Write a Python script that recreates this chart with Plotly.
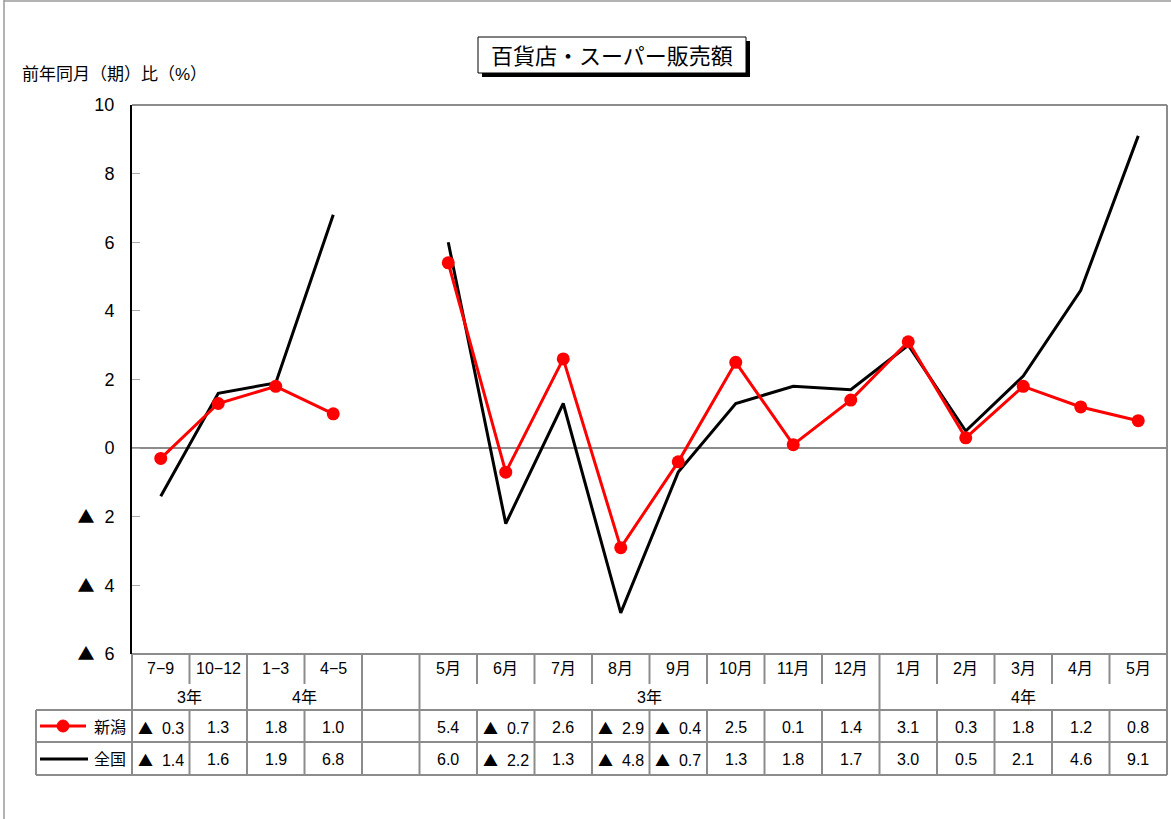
import plotly.graph_objects as go

# Period labels (quarters / two-month block, a spacer column, then monthly)
periods = ["7−9", "10−12", "1−3", "4−5", "",
           "5月", "6月", "7月", "8月", "9月", "10月", "11月", "12月",
           "1月", "2月", "3月", "4月", "5月"]
# Year groups: (label, first column, last column)
year_groups = [("3年", 0, 1), ("4年", 2, 3), ("3年", 5, 12), ("4年", 13, 17)]

niigata = [-0.3, 1.3, 1.8, 1.0, None,
           5.4, -0.7, 2.6, -2.9, -0.4, 2.5, 0.1, 1.4,
           3.1, 0.3, 1.8, 1.2, 0.8]
zenkoku = [-1.4, 1.6, 1.9, 6.8, None,
           6.0, -2.2, 1.3, -4.8, -0.7, 1.3, 1.8, 1.7,
           3.0, 0.5, 2.1, 4.6, 9.1]

y_ticks = [10, 8, 6, 4, 2, 0, -2, -4, -6]

# Page and plot-area geometry (pixels)
W, H = 1171, 819
L, R, T, B = 132, 1167, 105, 654
n = len(periods)


def px(xpix):
    return (xpix - L) / (R - L)


def py(ypix):
    return (B - ypix) / (B - T)


def tri(size):
    return f"<span style='font-family:Noto Sans CJK JP;font-size:{size}px'>▲</span>"


def fmt(v):
    if v is None:
        return ""
    return f"{tri(15)}\u00a0\u00a0{abs(v):.1f}" if v < 0 else f"{v:.1f}"


def tick_text(v):
    return f"{tri(17)}\u00a0 {abs(v)}" if v < 0 else str(v)


FONT = "Liberation Sans, Arial, Noto Sans CJK JP, sans-serif"
GRID = "#8c8c8c"

fig = go.Figure()
xs = list(range(n))
fig.add_trace(go.Scatter(
    x=xs, y=zenkoku, mode="lines", name="全国",
    line=dict(color="black", width=3), connectgaps=False,
))
fig.add_trace(go.Scatter(
    x=xs, y=niigata, mode="lines+markers", name="新潟",
    line=dict(color="#ff0000", width=3),
    marker=dict(color="#ff0000", size=13), connectgaps=False,
))

shapes = []
annotations = []


def hline(y0pix, x0, x1, xref="x", color=GRID, width=2):
    shapes.append(dict(type="line", xref=xref, yref="paper",
                       x0=x0, x1=x1, y0=py(y0pix), y1=py(y0pix),
                       line=dict(color=color, width=width)))


def vline(x, y0pix, y1pix, xref="x", color=GRID, width=2):
    shapes.append(dict(type="line", xref=xref, yref="paper",
                       x0=x, x1=x, y0=py(y0pix), y1=py(y1pix),
                       line=dict(color=color, width=width)))


def label(x, ypix, text, xref="x", xanchor="center", font=None):
    annotations.append(dict(x=x, y=py(ypix), xref=xref, yref="paper",
                            text=text, showarrow=False,
                            xanchor=xanchor, yanchor="middle",
                            font=font or TFONT))


# Plot frame (top and right sides grey)
hline(T, 0, 1, xref="paper")
vline(1, T, B, xref="paper")

# Table rows
ROW_HDR_TOP, ROW_HDR_SPLIT, ROW1, ROW2, ROW_END = 654, 684, 710, 742, 775
hline(ROW_HDR_TOP, 0, 1, xref="paper")
for yy in (ROW1, ROW2, ROW_END):
    hline(yy, px(36), 1, xref="paper")
vline(px(36), ROW1, ROW_END, xref="paper")
vline(0, ROW_HDR_TOP, ROW_END, xref="paper")
vline(1, ROW_HDR_TOP, ROW_END, xref="paper")

group_edges = {1, 3, 4, 12}
for i in range(n - 1):
    xb = i + 0.5
    if i in group_edges:
        vline(xb, ROW_HDR_TOP, ROW_END)
    else:
        vline(xb, ROW_HDR_TOP, ROW_HDR_SPLIT)
        vline(xb, ROW1, ROW_END)

TFONT = dict(family=FONT, size=16, color="black")
for i, p in enumerate(periods):
    if p:
        label(i, 668, p)
    label(i, 727, fmt(niigata[i]))
    label(i, 759, fmt(zenkoku[i]))
for text, a, b in year_groups:
    label((a + b) / 2, 697, text)

# Legend keys inside the table
shapes.append(dict(type="line", xref="paper", yref="paper",
                   x0=px(40), x1=px(86), y0=py(726), y1=py(726),
                   line=dict(color="#ff0000", width=3)))
shapes.append(dict(type="circle", xref="paper", yref="paper",
                   x0=px(57), x1=px(69), y0=py(720), y1=py(732),
                   fillcolor="#ff0000", line=dict(color="#ff0000", width=1)))
shapes.append(dict(type="line", xref="paper", yref="paper",
                   x0=px(40), x1=px(88), y0=py(759), y1=py(759),
                   line=dict(color="black", width=3)))
label(px(128), 727, "新潟", xref="paper", xanchor="right")
label(px(128), 759, "全国", xref="paper", xanchor="right")

# Outer page border (left and top)
shapes.append(dict(type="line", xref="paper", yref="paper",
                   x0=px(4), x1=px(4), y0=py(0), y1=py(H),
                   line=dict(color="#9a9a9a", width=1.5)))
shapes.append(dict(type="line", xref="paper", yref="paper",
                   x0=px(4), x1=px(W), y0=py(1), y1=py(1),
                   line=dict(color="#9a9a9a", width=1.5)))

# Title box with drop shadow
shapes.append(dict(type="rect", xref="paper", yref="paper",
                   x0=px(482), x1=px(750), y0=py(41), y1=py(77),
                   fillcolor="black", line=dict(width=0)))
shapes.append(dict(type="rect", xref="paper", yref="paper",
                   x0=px(478), x1=px(746), y0=py(37), y1=py(73),
                   fillcolor="white", line=dict(color="black", width=1)))
label(px(612), 54, "百貨店・スーパー販売額", xref="paper",
      font=dict(family="Noto Sans CJK JP", size=22, color="black"))

# Axis unit label
label(px(20), 74, "前年同月（期）比（%）", xref="paper", xanchor="left",
      font=dict(family=FONT, size=17, color="black"))

fig.update_layout(
    width=W, height=H,
    margin=dict(l=L, r=W - R, t=T, b=H - B, pad=0),
    paper_bgcolor="white", plot_bgcolor="white",
    showlegend=False,
    shapes=shapes, annotations=annotations,
    font=dict(family=FONT, size=16, color="black"),
    xaxis=dict(range=[-0.5, n - 0.5], showticklabels=False, showgrid=False,
               zeroline=False, showline=False, ticks="", fixedrange=True),
    yaxis=dict(range=[-6, 10], tickvals=y_ticks,
               ticktext=[tick_text(v) for v in y_ticks],
               ticks="inside", ticklen=8, tickcolor="#aaaaaa", tickwidth=1,
               ticklabelstandoff=12,
               showgrid=False, zeroline=True, zerolinecolor="#8c8c8c",
               zerolinewidth=1.5, showline=True, linecolor="black", linewidth=2,
               tickfont=dict(family=FONT, size=18), fixedrange=True),
)

fig.write_html("out.html")
